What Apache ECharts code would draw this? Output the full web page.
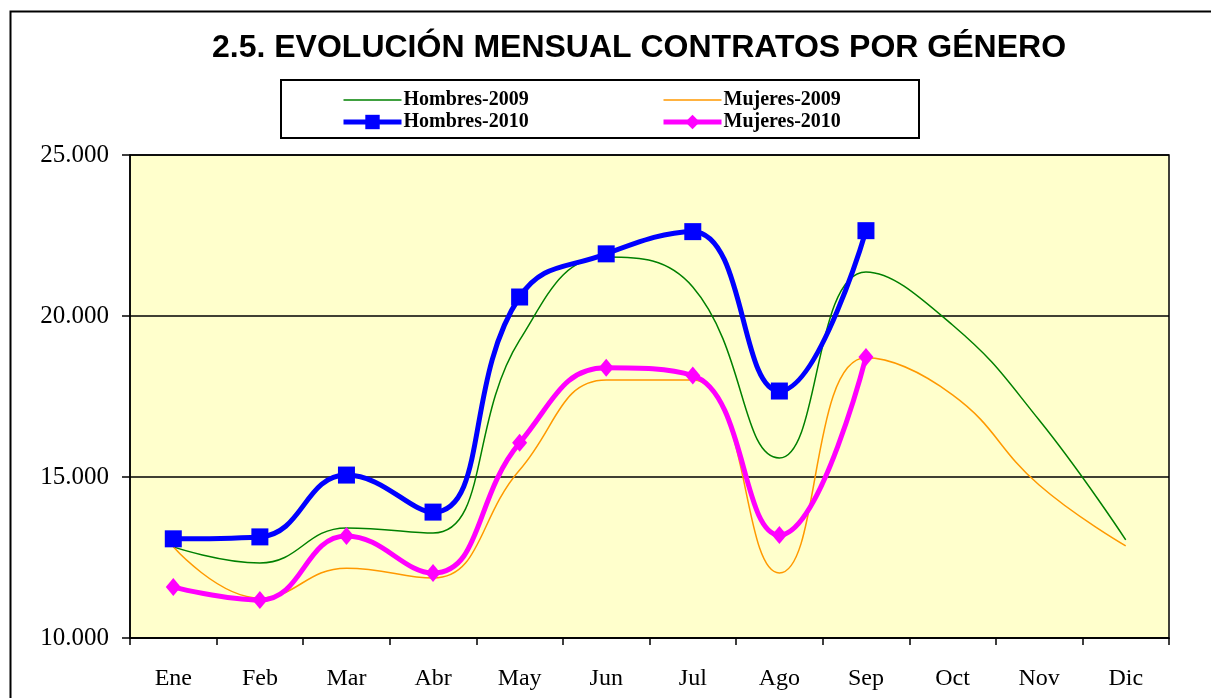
<!DOCTYPE html>
<html>
<head>
<meta charset="utf-8">
<script src="https://cdn.jsdelivr.net/npm/echarts@6/dist/echarts.min.js"></script>
<style>html,body{margin:0;padding:0;background:#fff;}#c{width:1211px;height:698px;}</style>
</head>
<body>
<div id="c"></div>
<script>
const months = ['Ene','Feb','Mar','Abr','May','Jun','Jul','Ago','Sep','Oct','Nov','Dic'];
const hombres2009 = [12830, 12330, 13420, 13260, 19250, 21830, 20900, 15590, 21370, 19720, 16770, 13050];
const mujeres2009 = [12830, 11240, 12170, 11860, 15220, 18010, 18010, 12020, 18700, 17550, 14750, 12860];
const hombres2010 = [13080, 13140, 15060, 13910, 20590, 21930, 22620, 17670, 22650];
const mujeres2010 = [11580, 11180, 13170, 12020, 16060, 18390, 18150, 13200, 18730];
const yTicks = {min: 10000, max: 25000, interval: 5000};

const chart = echarts.init(document.getElementById('c'), null, {renderer: 'canvas'});
const serif = "'Liberation Serif', 'Times New Roman', serif";
const fmt = v => String(v).replace(/\B(?=(\d{3})+(?!\d))/g, '.');
const legendText = {fontFamily: serif, fontWeight: 'bold', fontSize: 20, lineHeight: 19, color: '#000', padding: [0, 0, 0, -3]};
const hidden = {color: 'rgba(0,0,0,0)', borderWidth: 0, opacity: 0};

chart.setOption({
  animation: false,
  backgroundColor: '#ffffff',
  title: {
    text: '2.5. EVOLUCIÓN MENSUAL CONTRATOS POR GÉNERO',
    left: 207, top: 27,
    textStyle: {fontFamily: "'Liberation Sans', Arial, sans-serif", fontWeight: 'bold', fontSize: 32, color: '#000'}
  },
  graphic: [
    {type: 'polyline', shape: {points: [[10.5, 740], [10.5, 11.5], [1220, 11.5]]}, style: {stroke: '#000', lineWidth: 2, fill: null}, z: 10},
    {type: 'rect', shape: {x: 281, y: 80, width: 638, height: 58}, style: {stroke: '#000', lineWidth: 2, fill: '#fff'}, z: -1}
  ],
  legend: [
    {
      orient: 'vertical', left: 336, top: 85, itemGap: 2, itemWidth: 58, itemHeight: 18,
      data: [
        {name: 'Hombres-2009', itemStyle: hidden, lineStyle: {color: '#008000', width: 1.5}},
        {name: 'Hombres-2010', lineStyle: {width: 5}}
      ],
      textStyle: legendText
    },
    {
      orient: 'vertical', left: 656, top: 85, itemGap: 2, itemWidth: 58, itemHeight: 18,
      data: [
        {name: 'Mujeres-2009', itemStyle: hidden, lineStyle: {color: '#FF9900', width: 1.5}},
        {name: 'Mujeres-2010', lineStyle: {width: 5}}
      ],
      textStyle: legendText
    }
  ],
  grid: {
    left: 130, right: 42, top: 155, bottom: 60,
    show: true, backgroundColor: '#FFFFCC', borderColor: '#000', borderWidth: 1.5
  },
  xAxis: {
    type: 'category', data: months, boundaryGap: true,
    axisLine: {lineStyle: {color: '#000', width: 1.5}},
    axisTick: {show: true, length: 7, lineStyle: {color: '#000', width: 1.5}},
    axisLabel: {fontFamily: serif, fontSize: 24, color: '#000', margin: 29}
  },
  yAxis: {
    type: 'value', min: yTicks.min, max: yTicks.max, interval: yTicks.interval,
    axisLine: {show: true, lineStyle: {color: '#000', width: 1.5}},
    axisTick: {show: true, length: 8, lineStyle: {color: '#000', width: 1.5}},
    splitLine: {lineStyle: {color: '#000', width: 1.5}},
    axisLabel: {fontFamily: serif, fontSize: 25, color: '#000', margin: 21, formatter: fmt}
  },
  series: [
    {name: 'Hombres-2009', type: 'line', data: hombres2009, smooth: 0.45, symbol: 'none',
     lineStyle: {color: '#008000', width: 1.5}, itemStyle: {color: '#008000'}},
    {name: 'Mujeres-2009', type: 'line', data: mujeres2009, smooth: 0.45, symbol: 'none',
     lineStyle: {color: '#FF9900', width: 1.5}, itemStyle: {color: '#FF9900'}},
    {name: 'Hombres-2010', type: 'line', data: hombres2010, smooth: 0.45, symbol: 'rect', symbolSize: 17,
     lineStyle: {color: '#0000FF', width: 5}, itemStyle: {color: '#0000FF'}},
    {name: 'Mujeres-2010', type: 'line', data: mujeres2010, smooth: 0.45, symbol: 'diamond', symbolSize: [15, 18],
     lineStyle: {color: '#FF00FF', width: 5}, itemStyle: {color: '#FF00FF'}}
  ]
});
</script>
</body>
</html>
